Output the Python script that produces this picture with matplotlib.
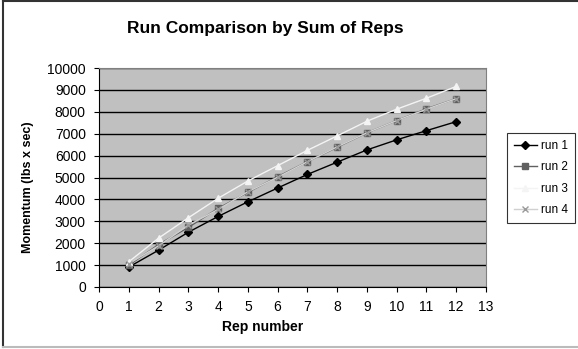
import matplotlib.pyplot as plt
from matplotlib.lines import Line2D

plt.rcParams['font.family'] = ['Liberation Sans', 'DejaVu Sans']

reps = [1, 2, 3, 4, 5, 6, 7, 8, 9, 10, 11, 12]
run1 = [910, 1680, 2500, 3220, 3890, 4520, 5140, 5700, 6260, 6720, 7140, 7550]
run2 = [990, 1940, 2720, 3590, 4320, 5040, 5720, 6380, 7040, 7600, 8140, 8600]
run3 = [1150, 2230, 3160, 4050, 4840, 5540, 6240, 6900, 7570, 8120, 8620, 9160]
run4 = [1060, 1880, 2820, 3540, 4350, 5010, 5720, 6400, 7040, 7600, 8120, 8600]

W, H = 578, 349
fig = plt.figure(figsize=(W / 100, H / 100), dpi=100)
ax = fig.add_axes([99 / W, 1 - 287 / H, (486 - 99) / W, (287 - 68) / H])
ax.set_facecolor('#c0c0c0')

ax.plot(reps, run1, color='black', marker='D', markersize=4, lw=1, label='run 1')
ax.plot(reps, run2, color='#606060', marker='s', markersize=4, lw=1, label='run 2')
ax.plot(reps, run3, color='#f4f4f4', marker='^', markersize=5, lw=1, label='run 3')
ax.plot(reps, run4, color='#d0d0d0', marker='x', markersize=5, lw=1,
        markeredgecolor='#9a9a9a', label='run 4')

ax.set_xlim(0, 13)
ax.set_ylim(0, 10000)
ax.set_xticks(range(0, 14))
ax.set_yticks(range(0, 10001, 1000))
ax.yaxis.grid(True, color='black', lw=1)
ax.set_axisbelow(True)
for s in ['top', 'right']:
    ax.spines[s].set_color('#808080')
ax.spines['left'].set_color('black')
ax.spines['bottom'].set_color('black')
ax.tick_params(direction='out', length=3.5, labelsize=10, pad=6)

# titles placed on the chart area
fig.text(265 / W, 1 - 28 / H, 'Run Comparison by Sum of Reps',
         ha='center', va='center', fontsize=12.5, fontweight='bold')
fig.text(263 / W, 1 - 327 / H, 'Rep number',
         ha='center', va='center', fontsize=10, fontweight='bold')
fig.text(28 / W, 1 - 187 / H, 'Momentum (lbs x sec)', rotation=90,
         ha='center', va='center', fontsize=9, fontweight='bold')

leg = ax.legend(loc='center left', bbox_to_anchor=(507 / W, 1 - 178 / H),
                bbox_transform=fig.transFigure, fontsize=8.5, frameon=True,
                fancybox=False, edgecolor='black', borderaxespad=0,
                handlelength=1.9, handletextpad=0.4, labelspacing=0.8,
                borderpad=0.6)
leg.get_frame().set_linewidth(0.8)

# chart outline
fig.add_artist(Line2D([3 / W, 1], [1 - 1 / H, 1 - 1 / H], color='#333333', lw=1.5))
fig.add_artist(Line2D([3 / W, 3 / W], [1 - 1 / H, 1 - 347 / H], color='#333333', lw=1.5))
fig.add_artist(Line2D([3 / W, 1], [1 - 347 / H, 1 - 347 / H], color='#bbbbbb', lw=1.5))

fig.savefig('out.png', dpi=100)
